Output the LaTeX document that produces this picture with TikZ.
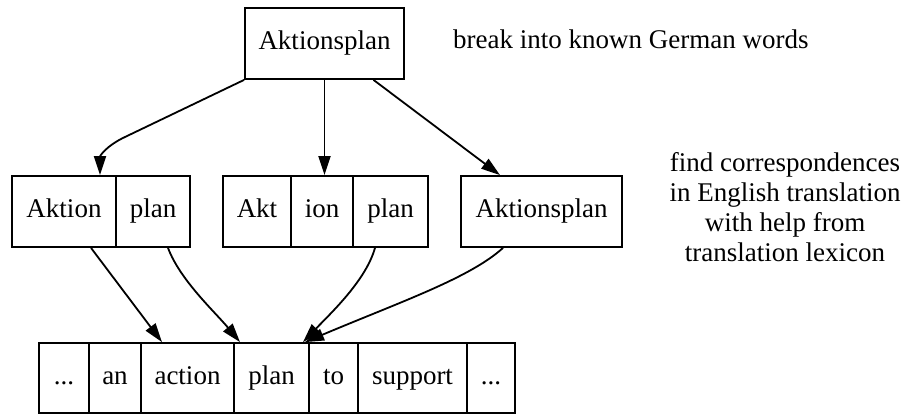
\documentclass[tikz,border=0pt]{standalone}
\usepackage{fontspec}
\setmainfont{Liberation Serif}
\usetikzlibrary{arrows.meta}
\begin{document}
\begin{tikzpicture}[x=1pt,y=-1pt,
  font=\fontsize{27}{30}\selectfont,
  cell/.style={draw, line width=1.8pt, inner sep=0pt, text height=19pt, text depth=6pt, minimum height=71pt},
  link/.style={line width=1.8pt, -{Triangle[length=19pt,width=12pt]}},
  note/.style={inner sep=0pt, align=center}]
\useasboundingbox (0,0) rectangle (906,414);

% compound word
\node[cell, minimum width=159pt] (top) at (324.5,43.5) {Aktionsplan};

% candidate splits
\node[cell, minimum width=104pt] (aktion) at (64,211.5) {Aktion};
\node[cell, minimum width=74pt]  (plana)  at (153,211.5) {plan};
\node[cell, minimum width=68pt]  (akt)    at (257,211.5) {Akt};
\node[cell, minimum width=62pt]  (ion)    at (322,211.5) {ion};
\node[cell, minimum width=75pt]  (planb)  at (390.5,211.5) {plan};
\node[cell, minimum width=161pt] (whole)  at (541.5,211.5) {Aktionsplan};

% English sentence
\begin{scope}[cell/.append style={minimum height=70pt}]
\node[cell, minimum width=50pt]  (dotsl)   at (64,378) {...};
\node[cell, minimum width=52pt]  (an)      at (115,378) {an};
\node[cell, minimum width=93pt]  (action)  at (187.5,378) {action};
\node[cell, minimum width=75pt]  (plan)    at (271.5,378) {plan};
\node[cell, minimum width=49pt]  (to)      at (333.5,378) {to};
\node[cell, minimum width=109pt] (support) at (412.5,378) {support};
\node[cell, minimum width=48pt]  (dotsr)   at (491,378) {...};
\end{scope}

% annotations
\node[note, anchor=base west] (brk) at (453,49) {break into known German words};
\node[note] (find) at (785,207) {find correspondences\\in English translation\\with help from\\translation lexicon};

% splitting
\draw[link] (top.south west) -- (125,137) .. controls (106,146) and (100,156) .. ([xshift=36pt]aktion.north);
\draw[link] (top.south) -- (top.south |- ion.north);
\draw[link] ([xshift=49pt]top.south) -- ([xshift=-41.5pt]whole.north);

% correspondences
\draw[link] ([xshift=27pt]aktion.south) -- ([xshift=-25.5pt]action.north);
\draw[link] ([xshift=15pt]plana.south) .. controls (180,280) and (215,312) .. ([xshift=-31.5pt]plan.north);
\draw[link] ([xshift=-15.5pt]planb.south) .. controls (366,280) and (332,312) .. ([xshift=31.5pt]plan.north);
\draw[link] ([xshift=-38.5pt]whole.south) .. controls (470,278) and (400,302) .. ([xshift=33.5pt]plan.north);
\end{tikzpicture}
\end{document}
